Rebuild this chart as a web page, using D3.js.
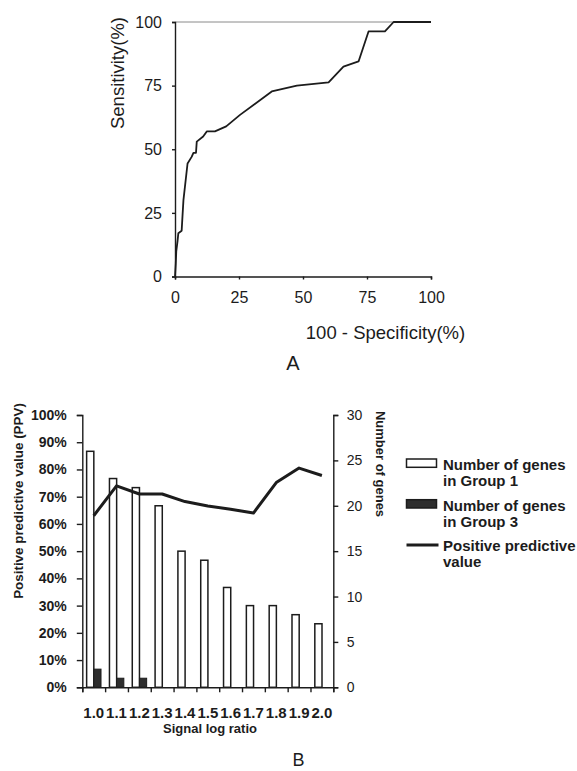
<!DOCTYPE html>
<html lang="en">

<head>
    <meta charset="UTF-8">
    <meta name="viewport" content="width=device-width, initial-scale=1.0">
    <title>ROC curve and positive predictive value</title>
    <style>
        html,
        body {
            background-color: white;
            margin: 0;
        }

        svg {
            display: block;
            background-color: white;
        }

        text {
            font-family: 'Liberation Sans', Arial, sans-serif;
            fill: #1c1c1c;
        }

        .axis path,
        .axis line {
            stroke: #1c1c1c;
            stroke-width: 1.4;
        }
    </style>
</head>

<body>
    <main></main>
    <script src="https://d3js.org/d3.v7.min.js"></script>
    <script>
        // - - - - - - - - - -
        // 0. Data
        // - - - - - - - - - -

        // Panel A: ROC curve
        const rocFpr = [0, 0.3, 0.5, 1.0, 1.3, 2.6, 3.0, 3.3, 4.9, 6.5, 7.2, 8.2, 8.5, 11, 12.4, 15.6, 20, 25.4, 37.8, 47.6, 60, 65.8, 71.7, 75.6, 82, 85.4, 100];
        const rocTpr = [0, 5, 10, 14, 17, 18, 25, 30, 44.4, 47, 48.6, 48.6, 53, 55, 57, 57, 59, 63.5, 72.7, 75, 76.3, 82.5, 84.5, 96.3, 96.3, 100, 100];
        const rocTicks = [0, 25, 50, 75, 100];

        // Panel B: genes by signal log ratio
        const ratios = ['1.0', '1.1', '1.2', '1.3', '1.4', '1.5', '1.6', '1.7', '1.8', '1.9', '2.0'];
        const group1 = [26, 23, 22, 20, 15, 14, 11, 9, 9, 8, 7];
        const group3 = [2, 1, 1, 0, 0, 0, 0, 0, 0, 0, 0];
        const ppv = [63, 74, 71, 71, 68.2, 66.6, 65.4, 64, 75.2, 80.5, 77.8];
        const ppvTicks = [0, 0.1, 0.2, 0.3, 0.4, 0.5, 0.6, 0.7, 0.8, 0.9, 1];
        const geneTicks = [0, 5, 10, 15, 20, 25, 30];
        const legendLabels = [
            ['Number of genes', 'in Group 1'],
            ['Number of genes', 'in Group 3'],
            ['Positive predictive', 'value']
        ];

        !(function () {
            'use strict';
            // - - - - - - - - - -
            // 1. Global declaration
            // - - - - - - - - - -
            let svg,
                ink = '#1c1c1c',
                canvas = {
                    width: 577,
                    height: 771
                };

            // - - - - - - - - - -
            // 2. Functions
            // - - - - - - - - - -

            /** Set the svg container
             * @returns {void}
             */
            function setSvg() {
                svg = d3.select('main')
                    .append('svg')
                    .attr('width', canvas.width)
                    .attr('height', canvas.height);
            }

            /** Put a plain label on the svg
             * @returns {d3.Selection}
             */
            function label(txt, x, y, size, weight, rot) {
                return svg.append('text')
                    .attr('transform', 'translate(' + x + ',' + y + ')' + (rot ? ' rotate(' + rot + ')' : ''))
                    .attr('text-anchor', 'middle')
                    .style('font-size', size + 'px')
                    .style('font-weight', weight || 'normal')
                    .text(txt);
            }

            /** Panel A, the ROC curve
             * @returns {void}
             */
            function drawRoc() {
                let x, y, g, line;

                x = d3.scaleLinear().domain([0, 100]).range([175, 431]);
                y = d3.scaleLinear().domain([0, 100]).range([276.5, 22]);

                // light line on the 100 level
                svg.append('line')
                    .attr('x1', x(0)).attr('x2', x(100))
                    .attr('y1', y(100)).attr('y2', y(100))
                    .attr('stroke', '#8a8a8a')
                    .attr('stroke-width', 1);

                g = svg.append('g')
                    .attr('class', 'axis')
                    .attr('transform', 'translate(0,' + y(0) + ')')
                    .call(d3.axisBottom(x).tickValues(rocTicks).tickSize(3).tickPadding(12));
                g.selectAll('text').style('font-size', '16px').attr('fill', ink);

                g = svg.append('g')
                    .attr('class', 'axis')
                    .attr('transform', 'translate(' + x(0) + ',0)')
                    .call(d3.axisLeft(y).tickValues(rocTicks).tickSize(3).tickPadding(10));
                g.selectAll('text').style('font-size', '16px').attr('fill', ink);

                line = d3.line()
                    .x(function (d) { return x(d[0]); })
                    .y(function (d) { return y(d[1]); });

                svg.append('path')
                    .datum(d3.zip(rocFpr, rocTpr))
                    .attr('d', line)
                    .attr('fill', 'none')
                    .attr('stroke', ink)
                    .attr('stroke-width', 1.8)
                    .attr('stroke-linejoin', 'round');

                label('Sensitivity(%)', 124, 73, 18.5, 'normal', -90);
                label('100 - Specificity(%)', 385.5, 339, 18.5);
                label('A', 293, 370, 20);
            }

            /** Panel B, bars for gene counts and the PPV line
             * @returns {void}
             */
            function drawPpv() {
                let x, xs, yL, yR, g, bw, line, lg;

                x = d3.scaleBand().domain(ratios).range([82.3, 333.3]);
                bw = x.bandwidth();
                xs = d3.scaleBand().domain(['g1', 'g3']).range([bw * 0.19, bw * 0.82]);
                yL = d3.scaleLinear().domain([0, 1]).range([687.3, 415]);
                yR = d3.scaleLinear().domain([0, 30]).range([687.3, 415]);

                // bars, group 1 hollow, group 3 dark
                svg.append('g').selectAll('rect')
                    .data(group1)
                    .join('rect')
                    .attr('x', function (d, i) { return x(ratios[i]) + xs('g1'); })
                    .attr('y', function (d) { return yR(d); })
                    .attr('width', xs.bandwidth())
                    .attr('height', function (d) { return yR(0) - yR(d); })
                    .attr('fill', 'white')
                    .attr('stroke', ink)
                    .attr('stroke-width', 1.5);

                svg.append('g').selectAll('rect')
                    .data(group3.map(function (d, i) { return [ratios[i], d]; }).filter(function (d) { return d[1] > 0; }))
                    .join('rect')
                    .attr('x', function (d) { return x(d[0]) + xs('g3'); })
                    .attr('y', function (d) { return yR(d[1]); })
                    .attr('width', xs.bandwidth())
                    .attr('height', function (d) { return yR(0) - yR(d[1]); })
                    .attr('fill', '#2e2e2e')
                    .attr('stroke', ink)
                    .attr('stroke-width', 1);

                // axes
                g = svg.append('g')
                    .attr('class', 'axis')
                    .attr('transform', 'translate(' + x.range()[0] + ',0)')
                    .call(d3.axisLeft(yL).tickValues(ppvTicks).tickFormat(d3.format('.0%')).tickSize(5.5).tickPadding(10));
                g.selectAll('text').style('font-size', '14px').style('font-weight', 'bold').attr('fill', ink);

                g = svg.append('g')
                    .attr('class', 'axis')
                    .attr('transform', 'translate(' + x.range()[1] + ',0)')
                    .call(d3.axisRight(yR).tickValues(geneTicks).tickSize(5).tickPadding(8.5));
                g.selectAll('text').style('font-size', '14px').attr('fill', ink);

                // category labels under the centres, tick marks on the borders
                g = svg.append('g')
                    .attr('class', 'axis')
                    .attr('transform', 'translate(0,' + yL(0) + ')')
                    .call(d3.axisBottom(x).tickSize(0).tickPadding(20));
                g.select('.domain').remove();
                g.selectAll('text').style('font-size', '15px').style('font-weight', 'bold').attr('fill', ink);

                svg.append('g')
                    .attr('class', 'axis')
                    .attr('transform', 'translate(0,' + yL(0) + ')')
                    .call(d3.axisBottom(d3.scaleLinear().domain([0, ratios.length]).range(x.range()))
                        .ticks(ratios.length).tickFormat('').tickSize(5).tickSizeOuter(5));

                // PPV line
                line = d3.line()
                    .x(function (d, i) { return x(ratios[i]) + bw / 2; })
                    .y(function (d) { return yL(d / 100); });

                svg.append('path')
                    .datum(ppv)
                    .attr('d', line)
                    .attr('fill', 'none')
                    .attr('stroke', ink)
                    .attr('stroke-width', 3)
                    .attr('stroke-linejoin', 'round');

                label('Positive predictive value (PPV)', 23, 501, 13.4, 'bold', -90);
                label('Number of genes', 376, 464, 13, 'bold', 90);
                label('Signal log ratio', 210, 733, 13, 'bold');
                label('B', 298.5, 766, 18);

                // legend
                lg = svg.append('g').selectAll('g')
                    .data(legendLabels)
                    .join('g')
                    .attr('transform', function (d, i) { return 'translate(406.5,' + (470 + i * 40.7) + ')'; });

                lg.filter(function (d, i) { return i < 2; })
                    .append('rect')
                    .attr('x', 0).attr('y', -11)
                    .attr('width', 30).attr('height', 8.3)
                    .attr('fill', function (d, i) { return i === 0 ? 'white' : '#2e2e2e'; })
                    .attr('stroke', ink)
                    .attr('stroke-width', 1.5);

                lg.filter(function (d, i) { return i === 2; })
                    .append('line')
                    .attr('x1', 0).attr('x2', 32)
                    .attr('y1', -6.5).attr('y2', -6.5)
                    .attr('stroke', ink)
                    .attr('stroke-width', 3);

                lg.append('text')
                    .attr('x', 36.5)
                    .style('font-size', '15px')
                    .style('font-weight', 'bold')
                    .selectAll('tspan')
                    .data(function (d) { return d; })
                    .join('tspan')
                    .attr('x', 36.5)
                    .attr('y', function (d, i) { return i * 16; })
                    .text(function (d) { return d; });
            }

            /** The main control
             * @returns {void}
             */
            function main() {
                setSvg();
                drawRoc();
                drawPpv();
            }

            // - - - - - - - - - -
            // 3. Main control
            // - - - - - - - - - -
            window.addEventListener('load', main);
        }());
    </script>
</body>

</html>
